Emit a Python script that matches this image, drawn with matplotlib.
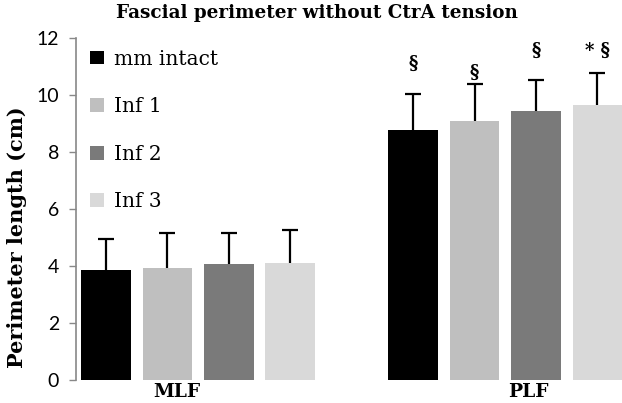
import matplotlib
matplotlib.use("Agg")
import matplotlib.pyplot as plt
import numpy as np

# data
groups = ["MLF", "PLF"]
series = ["mm intact", "Inf 1", "Inf 2", "Inf 3"]
colors = ["#000000", "#bfbfbf", "#7a7a7a", "#d9d9d9"]
mlf_mean = [3.85, 3.93, 4.06, 4.10]
mlf_err = [1.08, 1.22, 1.09, 1.15]
plf_mean = [8.77, 9.08, 9.43, 9.63]
plf_err = [1.25, 1.30, 1.08, 1.13]
plf_marks = ["§", "§", "§", "* §"]
plf_mark_y = [11.1, 10.78, 11.55, 11.55]

serif = "DejaVu Serif"
sans = "Lato"

fig = plt.figure(figsize=(6.22, 4.03), dpi=100)
ax = fig.add_axes([0.122, 0.057, 0.878, 0.849])

means = np.array([mlf_mean, plf_mean])
errs = np.array([mlf_err, plf_err])
for i, name in enumerate(series):
    x = np.arange(len(groups)) * 5 + i
    bars = ax.bar(x, means[:, i], width=0.81, color=colors[i], label=name,
                  yerr=[np.zeros(2), errs[:, i]], capsize=5.5,
                  error_kw=dict(elinewidth=1.6, capthick=1.6, ecolor="black"))
    # only the upper cap, as in the original
    caps = bars.errorbar.lines[1]
    caps[0].set_visible(False)

for i, m in enumerate(plf_marks):
    ax.text(5 + i, plf_mark_y[i], m, ha="center", va="center",
            fontsize=13, fontweight="bold", family=serif)

ax.set_xlim(-0.49, 8.4)
ax.set_ylim(0, 12)
ax.set_yticks(range(0, 13, 2))
ax.set_xticks([1.16, 6.87])
ax.set_xticklabels(groups, family=serif, fontweight="bold", fontsize=13.5)
ax.tick_params(axis="x", length=0, pad=2)
ax.tick_params(axis="y", direction="out", length=5, width=1, color="#888888",
               labelsize=14, pad=7)
for lab in ax.get_yticklabels():
    lab.set_family(sans)

for s in ["top", "right", "bottom"]:
    ax.spines[s].set_visible(False)
ax.spines["left"].set_color("#888888")
ax.spines["left"].set_linewidth(1.2)

ax.set_ylabel("Perimeter length (cm)", family=serif, fontweight="bold",
              fontsize=15)
ax.yaxis.set_label_coords(-0.089, 0.418)
fig.suptitle("Fascial perimeter without CtrA tension", family=serif,
             fontweight="bold", fontsize=13.2, x=0.509, y=0.99)

ax.legend(loc="upper left", bbox_to_anchor=(0.005, 1.0), frameon=False,
          prop={"family": serif, "size": 14.5}, handlelength=0.68,
          handleheight=0.68, handletextpad=0.5, labelspacing=1.42,
          borderaxespad=0.18)

fig.savefig("out.png", dpi=100)
